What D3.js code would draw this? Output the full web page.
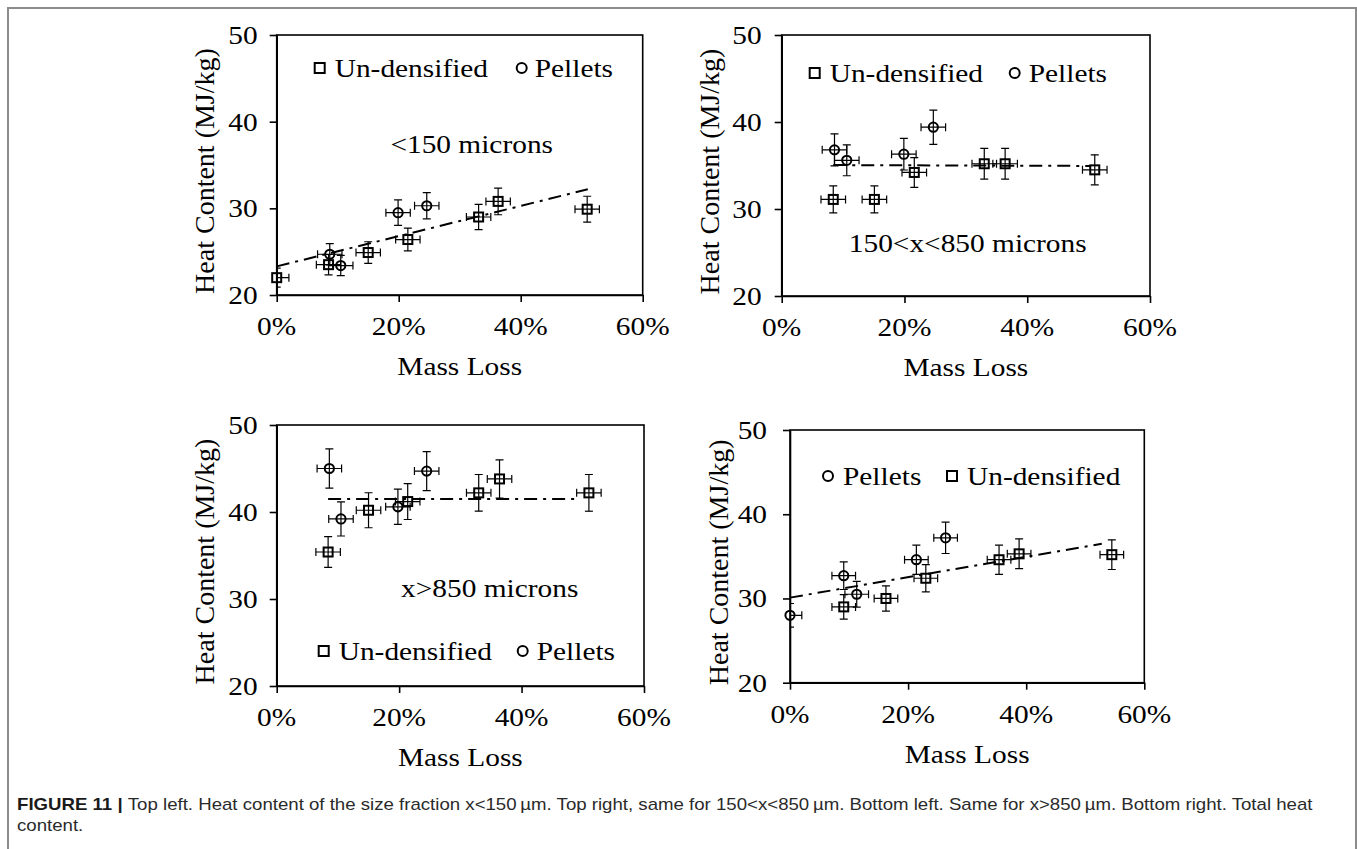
<!DOCTYPE html>
<html>
<head>
<meta charset="utf-8">
<script src="https://cdn.jsdelivr.net/npm/d3@7"></script>
<style>
  html, body { margin: 0; padding: 0; background: #fff; }
  svg { display: block; }
</style>
</head>
<body>
<svg id="chart" width="1357" height="849"></svg>
<script>
// ---------------- DATA ----------------
const xTicks = [0, 20, 40, 60];          // Mass Loss (%)
const yTicks = [20, 30, 40, 50];         // Heat Content (MJ/kg)
const xLabel = "Mass Loss";
const yLabel = "Heat Content (MJ/kg)";
const undLabel = "Un-densified";
const pelLabel = "Pellets";

// Top left: <150 microns
const p1UndX = [0, 8.5, 15.0, 21.5, 33.1, 36.3, 50.9];
const p1UndY = [22.0, 23.5, 24.9, 26.4, 29.0, 30.8, 29.9];
const p1PelX = [8.7, 10.5, 19.9, 24.6];
const p1PelY = [24.7, 23.4, 29.5, 30.3];
const p1TrendX = [0, 51];
const p1TrendY = [23.3, 32.2];

// Top right: 150<x<850 microns
const p2UndX = [8.4, 15.1, 21.6, 33.0, 36.4, 51.0];
const p2UndY = [31.1, 31.1, 34.2, 35.2, 35.2, 34.5];
const p2PelX = [8.6, 10.6, 19.9, 24.7];
const p2PelY = [36.8, 35.6, 36.3, 39.4];
const p2TrendX = [8.4, 50.3];
const p2TrendY = [35.05, 34.95];

// Bottom left: x>850 microns
const p3UndX = [8.4, 15.0, 21.4, 33.0, 36.4, 51.0];
const p3UndY = [35.4, 40.2, 41.2, 42.2, 43.8, 42.2];
const p3PelX = [8.6, 10.5, 19.8, 24.5];
const p3PelY = [45.0, 39.2, 40.6, 44.7];
const p3TrendX = [8.4, 49.0];
const p3TrendY = [41.5, 41.5];

// Bottom right: total
const p4PelX = [0, 9.1, 11.3, 21.4, 26.35];
const p4PelY = [28.0, 32.7, 30.5, 34.6, 37.2];
const p4UndX = [9.1, 16.25, 23.0, 35.4, 38.8, 54.5];
const p4UndY = [29.0, 30.0, 32.4, 34.6, 35.3, 35.2];
const p4TrendX = [0, 52.8];
const p4TrendY = [30.1, 36.5];

const panelTitles = ["<150 microns", "150<x<850 microns", "x>850 microns", null];
const xErr = 2;        // +/- percentage points
const yErrFrac = 0.05; // +/- 5 % of value

const captionBold = "FIGURE 11 | ";
const captionLine1 = "Top left. Heat content of the size fraction x<150\u2009\u00b5m. Top right, same for 150<x<850\u2009\u00b5m. Bottom left. Same for x>850\u2009\u00b5m. Bottom right. Total heat";
const captionLine2 = "content.";

// ---------------- LAYOUT (pixels) ----------------
const layout = [
  { l: 276.7, t: 35,  r: 642.7, b: 295,   tickPad: 19, title: [195, 118],
    legend: [{k: "und", mx: 43, tx: 58}, {k: "pel", mx: 245, tx: 258}], legY: 42 },
  { l: 781.7, t: 35,  r: 1150,  b: 296,   tickPad: 20, title: [186, 217],
    legend: [{k: "und", mx: 33, tx: 48}, {k: "pel", mx: 233, tx: 247}], legY: 47 },
  { l: 276.7, t: 425, r: 644,   b: 686,   tickPad: 19, title: [213, 172],
    legend: [{k: "und", mx: 47, tx: 62}, {k: "pel", mx: 246, tx: 260}], legY: 235 },
  { l: 790,   t: 430, r: 1144.3, b: 682.7, tickPad: 23, title: null,
    legend: [{k: "pel", mx: 38, tx: 53}, {k: "und", mx: 162, tx: 177}], legY: 55 }
];

const SX = 1.13;            // horizontal stretch of the reference text
const FONT = "'Liberation Serif', 'Times New Roman', serif";
const FS = 26;

const panels = [
  { und: [p1UndX, p1UndY], pel: [p1PelX, p1PelY], trend: [p1TrendX, p1TrendY] },
  { und: [p2UndX, p2UndY], pel: [p2PelX, p2PelY], trend: [p2TrendX, p2TrendY] },
  { und: [p3UndX, p3UndY], pel: [p3PelX, p3PelY], trend: [p3TrendX, p3TrendY] },
  { und: [p4UndX, p4UndY], pel: [p4PelX, p4PelY], trend: [p4TrendX, p4TrendY] }
];

const svg = d3.select("#chart");

// outer frame
svg.append("rect").attr("x", 8).attr("y", 8).attr("width", 1348).attr("height", 900)
  .attr("fill", "none").attr("stroke", "#8c8c8c").attr("stroke-width", 2);

function sText(g, x, y, str, anchor, size) {
  return g.append("text")
    .attr("transform", `translate(${x},${y}) scale(${SX},1)`)
    .attr("text-anchor", anchor || "start")
    .attr("font-family", FONT)
    .attr("font-size", size || FS)
    .attr("fill", "#000")
    .text(str);
}

const SQ = 9, CR = 4.6;
function drawMarker(g, kind, cx, cy, size) {
  if (kind === "und") {
    const s = size || SQ;
    g.append("rect").attr("x", cx - s / 2).attr("y", cy - s / 2).attr("width", s).attr("height", s)
      .attr("fill", "none").attr("stroke", "#000").attr("stroke-width", 2);
  } else {
    g.append("circle").attr("cx", cx).attr("cy", cy).attr("r", size ? size / 2 : CR)
      .attr("fill", "none").attr("stroke", "#000").attr("stroke-width", 2);
  }
}

panels.forEach((p, i) => {
  const L = layout[i];
  const x = d3.scaleLinear().domain([0, 60]).range([L.l, L.r]);
  const y = d3.scaleLinear().domain([20, 50]).range([L.b, L.t]);
  const g = svg.append("g");

  const clipId = "clip" + i;
  svg.append("clipPath").attr("id", clipId).append("rect")
    .attr("x", L.l).attr("y", L.t - 20).attr("width", L.r - L.l + 20).attr("height", L.b - L.t + 20);

  // axes
  const yAx = g.append("g").attr("transform", `translate(${L.l},0)`)
    .call(d3.axisLeft(y).tickValues(yTicks).tickSize(7).tickSizeOuter(0).tickFormat(""));
  const xAx = g.append("g").attr("transform", `translate(0,${L.b})`)
    .call(d3.axisBottom(x).tickValues(xTicks).tickSize(7).tickSizeOuter(0).tickFormat(""));
  [yAx, xAx].forEach(a => {
    a.selectAll("path,line").attr("stroke", "#000").attr("stroke-width", 1.6);
  });
  // box
  g.append("rect").attr("x", L.l).attr("y", L.t).attr("width", L.r - L.l).attr("height", L.b - L.t)
    .attr("fill", "none").attr("stroke", "#000").attr("stroke-width", 1.6);

  // tick labels
  yTicks.forEach(v => sText(g, L.l - L.tickPad, y(v) + 9, String(v), "end"));
  xTicks.forEach(v => sText(g, x(v), L.b + 40, v + "%", "middle"));

  // axis titles
  sText(g, (L.l + L.r) / 2, L.b + 80, xLabel, "middle");
  g.append("text")
    .attr("transform", `translate(${L.l - 71.5 + 9},${(L.t + L.b) / 2 + 6}) rotate(-90)`)
    .attr("text-anchor", "middle").attr("font-family", FONT).attr("font-size", 28)
    .attr("fill", "#000").text(yLabel);

  // trend line
  const tr = p.trend[0].map((v, j) => [v, p.trend[1][j]]);
  g.append("path").attr("d", d3.line().x(d => x(d[0])).y(d => y(d[1]))(tr))
    .attr("fill", "none").attr("stroke", "#000").attr("stroke-width", 2)
    .attr("stroke-dasharray", "13,6,3,6");

  // error bars + markers
  const eg = g.append("g").attr("clip-path", `url(#${clipId})`);
  const mg = g.append("g");
  ["und", "pel"].forEach(k => {
    const xs = p[k][0], ys = p[k][1];
    xs.forEach((xv, j) => {
      const yv = ys[j];
      const cx = x(xv), cy = y(yv);
      const ye = yv * yErrFrac;
      const cap = 4;
      // vertical
      eg.append("line").attr("x1", cx).attr("x2", cx).attr("y1", y(yv - ye)).attr("y2", y(yv + ye));
      eg.append("line").attr("x1", cx - cap).attr("x2", cx + cap).attr("y1", y(yv - ye)).attr("y2", y(yv - ye));
      eg.append("line").attr("x1", cx - cap).attr("x2", cx + cap).attr("y1", y(yv + ye)).attr("y2", y(yv + ye));
      // horizontal
      eg.append("line").attr("x1", x(xv - xErr)).attr("x2", x(xv + xErr)).attr("y1", cy).attr("y2", cy);
      eg.append("line").attr("x1", x(xv - xErr)).attr("x2", x(xv - xErr)).attr("y1", cy - cap).attr("y2", cy + cap);
      eg.append("line").attr("x1", x(xv + xErr)).attr("x2", x(xv + xErr)).attr("y1", cy - cap).attr("y2", cy + cap);
      drawMarker(mg, k, cx, cy);
    });
  });
  eg.selectAll("line").attr("stroke", "#000").attr("stroke-width", 1.2);

  // panel title
  if (panelTitles[i] && L.title) sText(g, L.l + L.title[0], L.t + L.title[1], panelTitles[i], "middle");

  // legend
  L.legend.forEach(it => {
    drawMarker(g, it.k, L.l + it.mx, L.t + L.legY - 9, 10);
    sText(g, L.l + it.tx, L.t + L.legY, it.k === "und" ? undLabel : pelLabel, "start");
  });
});

// caption
const capFont = "'Liberation Sans', Arial, sans-serif";
const cap = svg.append("text").attr("x", 0).attr("y", 0)
  .attr("font-family", capFont).attr("font-size", 16).attr("fill", "#2a2a2a");
cap.append("tspan").attr("font-weight", "bold").attr("fill", "#1a1a1a").text(captionBold);
cap.append("tspan").text(captionLine1);
const w = cap.node().getComputedTextLength();
const csx = (1313 - 17) / w;
cap.attr("transform", `translate(17,810) scale(${csx},1)`);
svg.append("text").attr("transform", `translate(17,831) scale(${csx},1)`)
  .attr("font-family", capFont).attr("font-size", 16).attr("fill", "#2a2a2a")
  .text(captionLine2);
</script>
</body>
</html>
